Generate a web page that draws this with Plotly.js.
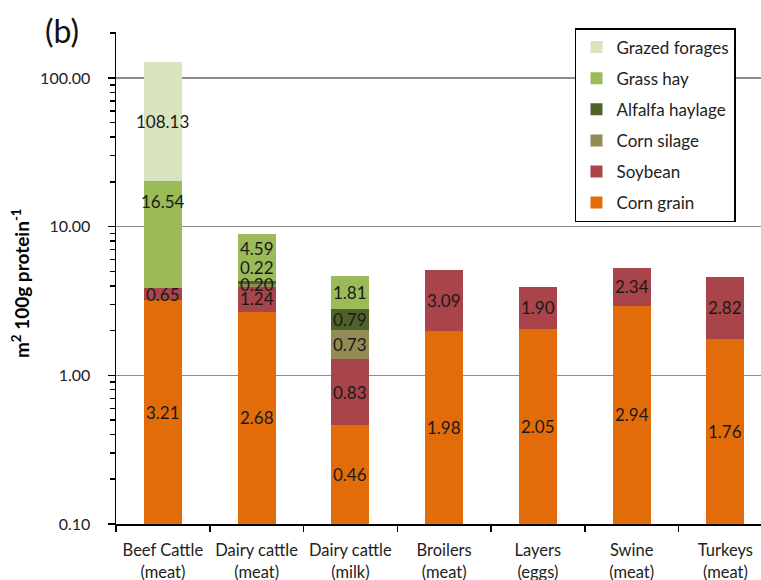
<!DOCTYPE html>
<html>
<head>
<meta charset="utf-8">
<script src="https://cdn.plot.ly/plotly-3.0.1.min.js"></script>
<style>html,body{margin:0;padding:0;background:#fff;overflow:hidden}</style>
</head>
<body>
<div id="chart" style="width:761px;height:580px"></div>
<script>
// ---- data ----
const categories = ["Beef Cattle<br>(meat)", "Dairy cattle<br>(meat)", "Dairy cattle<br>(milk)", "Broilers<br>(meat)", "Layers<br>(eggs)", "Swine<br>(meat)", "Turkeys<br>(meat)"];
const cornGrain      = [3.21, 2.68, 0.46, 1.98, 2.05, 2.94, 1.76];
const soybean        = [0.65, 1.24, 0.83, 3.09, 1.90, 2.34, 2.82];
const cornSilage     = [null, 0.20, 0.73, null, null, null, null];
const alfalfaHaylage = [null, 0.22, 0.79, null, null, null, null];
const grassHay       = [16.54, 4.59, 1.81, null, null, null, null];
const grazedForages  = [108.13, null, null, null, null, null, null];
const seriesNames = ["Corn grain", "Soybean", "Corn silage", "Alfalfa haylage", "Grass hay", "Grazed forages"];
const yTickVals = [0.1, 1, 10, 100];
const yTickText = ["0.10", "1.00", "10.00", "100.00"];

// ---- styles ----
const colors = ["#e36c0a", "#a9444b", "#948a54", "#4f6228", "#9bbb59", "#d7e4bd"];
const FONT = "Lato, 'Open Sans', sans-serif";
// manual label nudges (pixels, upward) as in the original figure
const labelShift = {"4-0": 33, "4-1": 9, "3-1": 15, "2-1": 1, "1-1": 1};

const seriesValues = [cornGrain, soybean, cornSilage, alfalfaHaylage, grassHay, grazedForages];
const yMinLog = -1, yMaxLog = 2.309;

const traces = seriesValues.map((vals, i) => ({
  type: "bar",
  name: seriesNames[i],
  x: categories,
  y: vals,
  marker: {color: colors[i], line: {width: 0}},
  legendgroup: "g" + i,
  legendrank: seriesNames.length - i,
  hoverinfo: "name+y"
}));

// labels at the (log-space) middle of each segment
const annotations = [];
const cum = categories.map(() => 0);
seriesValues.forEach((vals, i) => {
  vals.forEach((v, j) => {
    if (v === null || v === undefined) return;
    const base = cum[j];
    const top = base + v;
    const lb = base > 0 ? Math.log10(base) : yMinLog;
    const mid = (lb + Math.log10(top)) / 2;
    annotations.push({
      x: categories[j], y: mid, xref: "x", yref: "y",
      text: v.toFixed(2), showarrow: false,
      yshift: labelShift[i + "-" + j] || 0,
      font: {family: FONT, size: 17, color: "#1a1a1a"}
    });
    cum[j] = top;
  });
});

const minorVals = [];
for (let d = -1; d <= 2; d++) for (let k = 2; k <= 9; k++) minorVals.push(k * Math.pow(10, d));

annotations.push({
  xref: "paper", yref: "paper", x: -0.113, y: 1.046, xanchor: "left", yanchor: "top",
  text: "(b)", showarrow: false, font: {family: FONT, size: 32, color: "#111"}
});
annotations.push({
  xref: "paper", yref: "paper", x: -0.147, y: 0.49, xanchor: "center", yanchor: "middle",
  textangle: -90, showarrow: false,
  text: "<b>m<sup>2</sup> 100g protein<sup>-1</sup></b>",
  font: {family: FONT, size: 19, color: "#000"}
});

const layout = {
  width: 761, height: 580,
  margin: {l: 116, r: 0, t: 32, b: 56},
  paper_bgcolor: "#fff", plot_bgcolor: "#fff",
  barmode: "stack", bargap: 0.595,
  font: {family: FONT, size: 17, color: "#222"},
  showlegend: true,
  legend: {
    x: 0.7116, y: 1.008, xanchor: "left", yanchor: "top",
    bordercolor: "#000", borderwidth: 1.5, bgcolor: "#fff",
    traceorder: "grouped", tracegroupgap: 6, valign: "top",
    font: {family: FONT, size: 17, color: "#222"}
  },
  xaxis: {
    type: "category", range: [-0.5, 6.38],
    showline: true, linecolor: "#000", linewidth: 1.5,
    ticks: "outside", tickson: "boundaries", ticklen: 6, tickcolor: "#000", tickwidth: 1.5,
    ticklabelstandoff: 11, tickangle: 0,
    showgrid: false, tickfont: {family: FONT, size: 16.5, color: "#222"}, fixedrange: true
  },
  yaxis: {
    type: "log", range: [yMinLog, yMaxLog],
    tickvals: yTickVals, ticktext: yTickText,
    showline: true, linecolor: "#000", linewidth: 1.5,
    ticks: "outside", ticklen: 7, tickcolor: "#000", tickwidth: 1.5,
    ticklabelstandoff: 14,
    showgrid: true, gridcolor: "#8c8c8c", gridwidth: 1.5,
    zeroline: false,
    minor: {tickvals: minorVals, ticks: "outside", ticklen: 5, tickcolor: "#000", tickwidth: 1.5, showgrid: false},
    tickfont: {family: FONT, size: 16, color: "#222"}, fixedrange: true
  },
  annotations: annotations
};

Plotly.newPlot("chart", traces, layout, {displayModeBar: false, staticPlot: true});
</script>
</body>
</html>
